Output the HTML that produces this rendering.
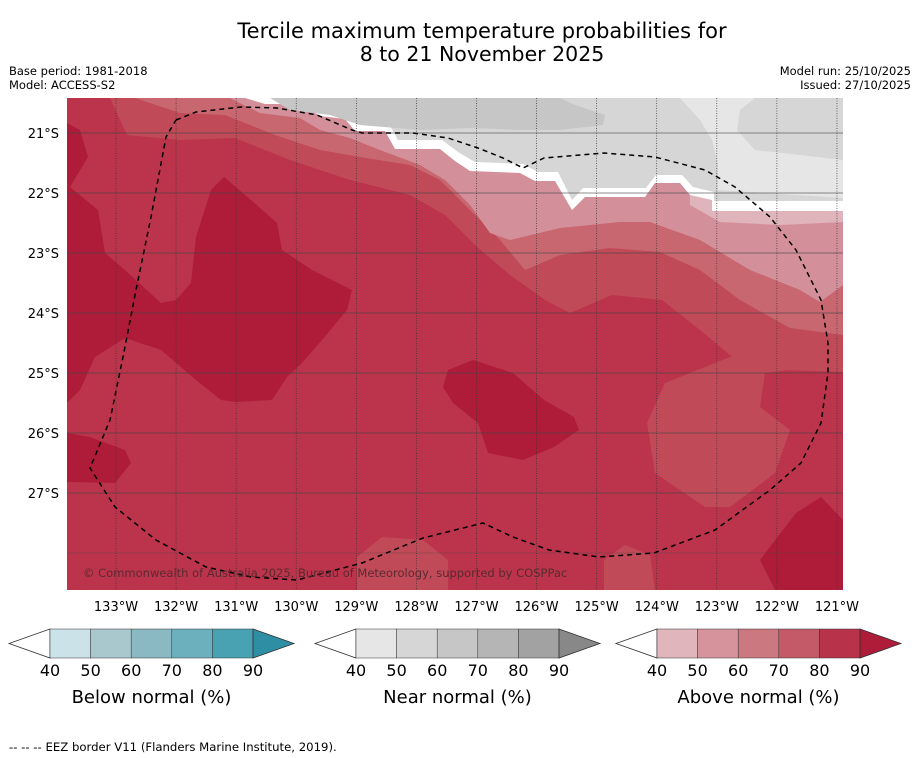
<!DOCTYPE html>
<html><head><meta charset="utf-8">
<style>
body{margin:0;background:#fff;width:919px;height:758px;overflow:hidden;font-family:"Liberation Sans","DejaVu Sans",sans-serif;}
svg{position:absolute;left:0;top:0}
</style></head>
<body>
<svg id="chart" width="919" height="758" viewBox="0 0 919 758" xmlns="http://www.w3.org/2000/svg" font-family="DejaVu Sans, Liberation Sans, sans-serif">
<text x="482" y="38" text-anchor="middle" font-size="21">Tercile maximum temperature probabilities for</text>
<text x="482" y="61" text-anchor="middle" font-size="20.5">8 to 21 November 2025</text>
<text x="9" y="75" font-size="11.5">Base period: 1981-2018</text>
<text x="9" y="89" font-size="11.5">Model: ACCESS-S2</text>
<text x="911" y="75" font-size="11.5" text-anchor="end">Model run: 25/10/2025</text>
<text x="911" y="89" font-size="11.5" text-anchor="end">Issued: 27/10/2025</text>
<defs><clipPath id="mapclip"><rect x="67" y="98" width="776" height="492"/></clipPath></defs>
<g clip-path="url(#mapclip)">
<rect x="67" y="98" width="776" height="492" fill="#bb344b"/>
<polygon fill="#c04a58" points="67,98 110,98 127,135 180,140 235,138 290,160 350,180 410,195 445,215 475,245 510,275 545,300 570,313 612,295 662,300 700,330 730,355 780,370 843,372 843,98"/>
<polygon fill="#c96771" points="135,98 180,113 225,115 275,135 320,150 360,157 410,165 440,180 470,210 500,240 525,270 560,255 610,248 660,252 700,270 740,300 790,328 843,335 843,98"/>
<polygon fill="#d4909a" points="230,98 260,113 300,118 320,130 350,138 380,150 420,165 445,180 470,205 490,233 510,240 560,228 620,222 650,222 700,240 750,270 800,290 820,302 843,285 843,98"/>
<polygon fill="#dfb4ba" points="690,205 720,222 780,225 843,222 843,98 690,98"/>
<polygon fill="#ffffff" points="245,98 265,104 300,104 320,116 345,119 355,131 385,131 395,149 440,149 455,161 470,171 520,173 535,181 555,181 572,210 585,197 645,197 655,183 680,183 690,195 712,200 712,211 843,211 843,98"/>
<polygon fill="#d6d6d6" points="260,98 270,96 305,96 322,107 348,110 360,122 388,122 398,140 442,140 458,152 475,162 523,164 538,172 558,172 572,200 583,188 646,188 656,175 682,175 693,187 714,192 714,201 843,201 843,98"/>
<polygon fill="#c6c6c6" points="270,98 290,110 330,115 360,125 420,130 470,128 520,130 560,130 603,125 605,115 575,105 560,98"/>
<polygon fill="#e6e6e6" points="680,98 700,120 712,140 718,165 718,190 843,198 843,98"/>
<polygon fill="#d6d6d6" points="755,98 740,110 737,130 755,150 800,155 843,160 843,98"/>
<polygon fill="#af1c39" points="67,123 80,130 88,157 70,187 98,210 105,253 125,270 161,303 176,300 191,283 196,237 211,190 224,177 251,200 277,223 282,250 312,270 352,290 347,310 322,340 302,363 287,377 272,400 236,402 221,400 196,380 161,350 125,338 95,357 80,390 67,403"/>
<polygon fill="#af1c39" points="67,433 90,437 125,450 131,463 115,483 67,482"/>
<polygon fill="#af1c39" points="448,370 473,360 513,373 544,400 574,417 579,430 554,447 523,460 488,453 478,423 453,403 443,387"/>
<polygon fill="#af1c39" points="760,560 796,513 821,497 843,520 843,590 775,590"/>
<polygon fill="#c04a58" points="730,357 665,383 647,423 655,473 705,507 730,507 775,473 790,430 760,407 765,373 790,370 843,370 843,340 790,335"/>
<polygon fill="#c04a58" points="357,557 382,537 423,540 448,560 448,590 357,590"/>
<polygon fill="#c04a58" points="604,560 625,545 650,555 655,590 604,590"/>
<g id="grid"></g>
<polyline fill="none" stroke="#000" stroke-width="1.5" stroke-dasharray="5,4" stroke-linejoin="round" points="176,120 196,112 241,107 277,108 317,115 352,130 362,133 413,133 448,138 478,148 503,158 523,168 544,158 604,153 655,157 705,170 735,187 770,217 796,250 821,300 828,343 828,373 821,423 801,463 770,490 715,530 654,553 599,557 549,550 513,537 483,523 423,538 362,563 297,580 251,577 206,567 156,540 115,507 90,468 110,420 123,357 136,290 151,217 166,137 176,120"/>
<text x="83" y="577" font-size="11.5" fill="#5a2a30">© Commonwealth of Australia 2025, Bureau of Meteorology, supported by COSPPac</text>
</g>
<g id="axes"></g>
<g id="colorbars"></g>
<text x="9" y="751" font-size="11.7">--  --  -- EEZ border V11 (Flanders Marine Institute, 2019).</text>
</svg>
<script>
const lonLabels = ["133°W","132°W","131°W","130°W","129°W","128°W","127°W","126°W","125°W","124°W","123°W","122°W","121°W"];
const lonValues = [133,132,131,130,129,128,127,126,125,124,123,122,121];
const latValues = [21,22,23,24,25,26,27,28];
const latLabels = ["21°S","22°S","23°S","24°S","25°S","26°S","27°S",""];
const cbTicks = [40,50,60,70,80,90];
const belowColors = ["#ffffff","#cae2e8","#a8c8cd","#8ab8c3","#6cb0bd","#48a2b1","#2e8ea3"];
const nearColors = ["#ffffff","#e6e6e6","#d6d6d6","#c6c6c6","#b5b5b5","#a2a2a2","#888888"];
const aboveColors = ["#ffffff","#e0b5bb","#d6939b","#cc7880","#c45a68","#b8334a","#ae1c39"];
const cbTitles = ["Below normal (%)","Near normal (%)","Above normal (%)"];

const NS="http://www.w3.org/2000/svg";
function xLon(l){return 116+(133-l)*60.08;}
function yLat(l){return 133+(l-21)*60;}
function mk(tag,attrs,parent){const e=document.createElementNS(NS,tag);for(const k in attrs)e.setAttribute(k,attrs[k]);parent.appendChild(e);return e;}
const grid=document.getElementById('grid'), axes=document.getElementById('axes');
lonValues.forEach((v,i)=>{
  const x=xLon(v);
  const ln=mk('line',{x1:x,x2:x,y1:98,y2:590,stroke:'#333','stroke-width':0.7,'stroke-dasharray':'1,1.5'},grid);
  
  
  const t=mk('text',{x:x,y:611,'font-size':13,'text-anchor':'middle'},axes);
  t.textContent=lonLabels[i];
  
  
});
latValues.forEach((v,i)=>{
  const y=yLat(v);
  const ln=mk('line',{x1:67,x2:843,y1:y,y2:y,stroke:'#444','stroke-width':0.8,'stroke-opacity':latLabels[i]?0.8:0.4},grid);
  
  
  if(latLabels[i]){
    const t=mk('text',{x:59,y:y+5,'font-size':13,'text-anchor':'end'},axes);
    t.textContent=latLabels[i];
    
    
  }
});
const cb=document.getElementById('colorbars');
const starts=[50,356,657];
[belowColors,nearColors,aboveColors].forEach((cols,j)=>{
  const x0=starts[j], w=40.6, y0=629, h=29;
  const g=mk('g',{},cb);
  
  
  const lt=mk('polygon',{points:`${x0},${y0} ${x0-41},${y0+h/2} ${x0},${y0+h}`,fill:cols[0],stroke:'#333','stroke-width':0.8},g);
  
  
  for(let k=0;k<5;k++){
    const r=mk('rect',{x:x0+k*w,y:y0,width:w,height:h,fill:cols[k+1],stroke:'#333','stroke-width':0.5},g);
    
    
  }
  const xe=x0+5*w;
  const rt=mk('polygon',{points:`${xe},${y0} ${xe+41},${y0+h/2} ${xe},${y0+h}`,fill:cols[6],stroke:'#333','stroke-width':0.8},g);
  
  
  cbTicks.forEach((tv,k)=>{
    const t=mk('text',{x:x0+k*w,y:676,'font-size':16,'text-anchor':'middle'},g);
    t.textContent=tv;
    
    
  });
  const tt=mk('text',{x:x0+2.5*w,y:703,'font-size':18,'text-anchor':'middle'},g);
  tt.textContent=cbTitles[j];
  
  
});
</script>
</body></html>
